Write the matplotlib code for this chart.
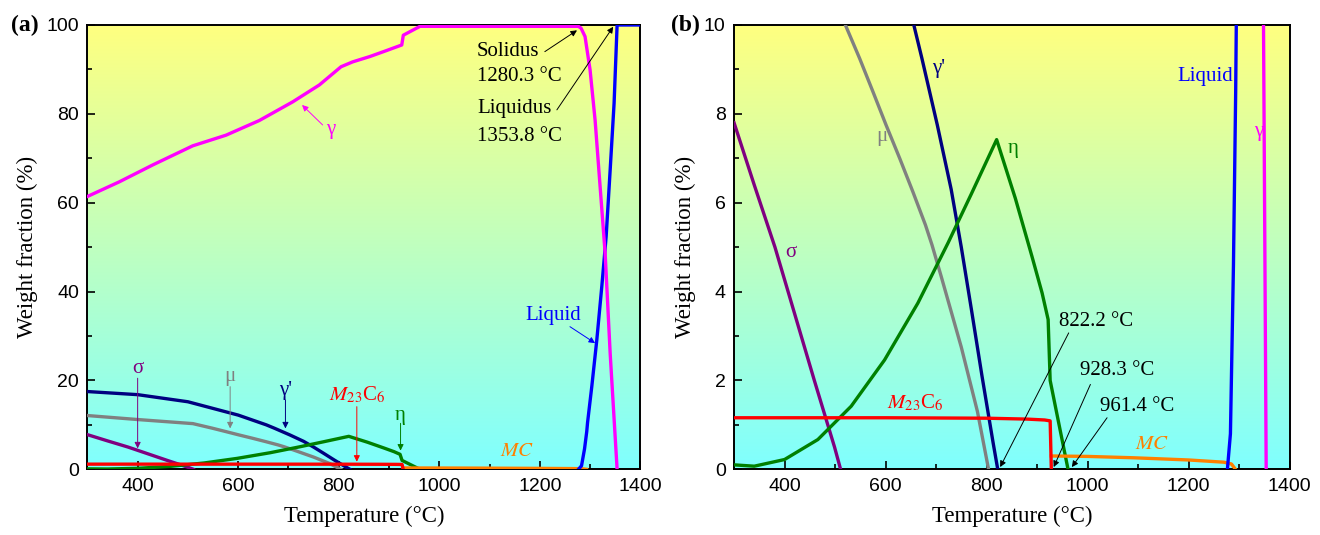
import matplotlib
matplotlib.use('Agg')
import matplotlib.pyplot as plt
import numpy as np
from matplotlib.ticker import MultipleLocator

# Phase fractions (wt.%) vs temperature (C)
t_gamma = [300, 363.5, 430, 509.5, 575.8, 642, 708.5, 761.4, 804.6, 827.8, 862, 894, 925.4, 928.5, 961.7,
           1276.7, 1282, 1290, 1300, 1310, 1320, 1330, 1340, 1353.8]
w_gamma = [61.4, 64.7, 68.5, 72.8, 75.2, 78.5, 82.7, 86.5, 90.6, 91.7, 92.9, 94.2, 95.5, 97.7, 99.7,
           99.7, 99.3, 97.4, 89.9, 78.6, 63.6, 48.6, 26.1, 0.0]

t_liquid = [1277, 1283, 1289, 1293.4, 1295, 1303.4, 1313.4, 1323.3, 1332, 1340, 1347.8, 1353.8, 1400]
w_liquid = [0.0, 0.8, 4.6, 8.5, 10.5, 18.6, 29.1, 41.1, 52.4, 67.4, 82.4, 100.0, 100.0]

t_gp = [300, 400, 500, 600, 656, 672, 702.5, 730, 750, 770, 791, 813, 822.2]
w_gp = [17.5, 16.8, 15.2, 12.2, 10.0, 9.25, 7.75, 6.3, 5.0, 3.6, 2.1, 0.6, 0.0]

t_mu = [300, 400, 510, 548.6, 575, 601, 628, 654, 679, 692, 710, 750, 782, 804]
w_mu = [12.1, 11.2, 10.28, 9.25, 8.5, 7.75, 7.0, 6.25, 5.5, 5.05, 4.35, 2.75, 1.3, 0.0]

t_sigma = [300, 340, 381, 420, 459, 499, 511]
w_sigma = [7.8, 6.4, 5.0, 3.5, 2.0, 0.5, 0.0]

t_eta = [300, 340, 400, 466, 532, 598, 664, 724, 770, 820, 857, 890, 910, 922, 926, 961.4]
w_eta = [0.10, 0.07, 0.22, 0.67, 1.42, 2.46, 3.74, 5.1, 6.2, 7.42, 6.1, 4.79, 3.97, 3.37, 2.0, 0.0]

t_m23 = [300, 600, 800, 880, 915, 926, 928.3]
w_m23 = [1.16, 1.16, 1.15, 1.13, 1.11, 1.09, 0.0]

t_mc = [928.3, 1000, 1090, 1200, 1270, 1285, 1293]
w_mc = [0.30, 0.29, 0.26, 0.21, 0.16, 0.12, 0.0]

serif = 'Liberation Serif'
sans = 'Liberation Sans'

phases = [
    (t_sigma, w_sigma, '#800080'),
    (t_mu, w_mu, '#808080'),
    (t_gp, w_gp, '#000080'),
    (t_eta, w_eta, '#008000'),
    (t_mc, w_mc, '#FF8000'),
    (t_m23, w_m23, '#FF0000'),
    (t_liquid, w_liquid, '#0000FF'),
    (t_gamma, w_gamma, '#FF00FF'),
]

fig = plt.figure(figsize=(13.2, 5.35), dpi=100)
ax1 = fig.add_axes([0.0662, 0.1228, 0.4189, 0.8305])
ax2 = fig.add_axes([0.5561, 0.1228, 0.4208, 0.8305])

# yellow -> cyan background
grad = np.linspace(0, 1, 256).reshape(-1, 1)
top = np.array([1.0, 1.0, 0.5])
bot = np.array([0.5, 1.0, 1.0])
img = bot[None, None, :] * (1 - grad[:, :, None]) + top[None, None, :] * grad[:, :, None]


def setup(ax, ymax, major, minor):
    ax.imshow(img, extent=[300, 1400, 0, ymax], origin='lower', aspect='auto', zorder=0)
    for t, w, c in phases:
        ax.plot(t, w, color=c, lw=2.4, zorder=3, solid_joinstyle='round')
    ax.set_xlim(300, 1400)
    ax.set_ylim(0, ymax)
    ax.xaxis.set_major_locator(MultipleLocator(200))
    ax.xaxis.set_minor_locator(MultipleLocator(100))
    ax.yaxis.set_major_locator(MultipleLocator(major))
    ax.yaxis.set_minor_locator(MultipleLocator(minor))
    ax.tick_params(which='both', direction='in', top=False, right=False)
    ax.tick_params(which='major', length=6, width=1.2, labelsize=14, pad=6)
    ax.tick_params(which='minor', length=3.5, width=1.2)
    for lab in ax.get_xticklabels() + ax.get_yticklabels():
        lab.set_fontfamily(sans)
    for s in ax.spines.values():
        s.set_linewidth(1.4)
    ax.set_xlabel('Temperature (°C)', fontsize=16.5, family=serif, labelpad=8)
    ax.set_ylabel('Weight fraction (%)', fontsize=16.5, family=serif, labelpad=6)


def arrow(ax, x0, y0, x1, y1, c='black'):
    ax.annotate('', xy=(x1, y1), xytext=(x0, y0),
                arrowprops=dict(arrowstyle='-|>', color=c, lw=0.7, mutation_scale=9,
                                shrinkA=0, shrinkB=0))


setup(ax1, 100, 20, 10)
setup(ax2, 10, 2, 1)

fs = 15

# panel (a)
ax1.text(-0.088, 1.0, '(a)', transform=ax1.transAxes, fontsize=17, weight='bold', family=serif,
         ha='right', va='center')
for y, s in [(94.0, 'Solidus'), (88.4, '1280.3 °C'), (81.2, 'Liquidus'), (74.9, '1353.8 °C')]:
    ax1.text(1075, y, s, fontsize=fs, family=serif, va='center', ha='left')
arrow(ax1, 1210, 94, 1274, 98.8)
arrow(ax1, 1234, 80.9, 1346, 99.6)

ax1.text(785, 76.4, 'γ', color='#FF00FF', fontsize=fs, family=serif, ha='center', va='center')
arrow(ax1, 768, 77.5, 727, 82, '#FF00FF')
ax1.text(1227, 34.7, 'Liquid', color='#0000FF', fontsize=fs, family=serif, ha='center', va='center')
arrow(ax1, 1260, 32.1, 1310, 28.4, '#0000FF')

small = [
    (400, 'σ', '#800080', 22.7, 20.5, 4.7),
    (584, 'μ', '#808080', 20.8, 18.6, 9.2),
    (694, "γ'", '#000080', 17.8, 15.6, 9.2),
    (836, '$M_{23}$C$_6$', '#FF0000', 16.8, 14.1, 1.7),
    (923, 'η', '#008000', 12.2, 10.35, 4.2),
]
for x, lab, c, ty, y0, y1 in small:
    ax1.text(x, ty, lab, color=c, fontsize=fs, family=serif, ha='center', va='center',
             math_fontfamily='stix')
    arrow(ax1, x, y0, x, y1, c)
ax1.text(1155, 4.0, '$MC$', color='#FF8000', fontsize=fs, family=serif, ha='center', va='center',
         math_fontfamily='stix')

# panel (b)
ax2.text(-0.062, 1.0, '(b)', transform=ax2.transAxes, fontsize=17, weight='bold', family=serif,
         ha='right', va='center')
ax2.text(1233, 8.83, 'Liquid', color='#0000FF', fontsize=fs, family=serif, ha='center', va='center')
ax2.text(1338, 7.6, 'γ', color='#FF00FF', fontsize=fs, family=serif, ha='center', va='center')
ax2.text(705, 9.03, "γ'", color='#000080', fontsize=fs, family=serif, ha='center', va='center')
ax2.text(592, 7.49, 'μ', color='#808080', fontsize=fs, family=serif, ha='center', va='center')
ax2.text(852, 7.23, 'η', color='#008000', fontsize=fs, family=serif, ha='center', va='center')
ax2.text(413, 4.87, 'σ', color='#800080', fontsize=fs, family=serif, ha='center', va='center')
ax2.text(658, 1.49, '$M_{23}$C$_6$', color='#FF0000', fontsize=fs, family=serif, ha='center',
         va='center', math_fontfamily='stix')
ax2.text(1128, 0.56, '$MC$', color='#FF8000', fontsize=fs, family=serif, ha='center', va='center',
         math_fontfamily='stix')

temps = [
    ('822.2 °C', 1017, 3.33, 962.7, 3.07, 827, 0.05),
    ('928.3 °C', 1058.5, 2.23, 1005.7, 1.91, 933, 0.05),
    ('961.4 °C', 1098, 1.42, 1038.7, 1.16, 969, 0.05),
]
for lab, tx, ty, x0, y0, x1, y1 in temps:
    ax2.text(tx, ty, lab, fontsize=fs, family=serif, ha='center', va='center')
    arrow(ax2, x0, y0, x1, y1)

plt.savefig('out.png', dpi=100)
